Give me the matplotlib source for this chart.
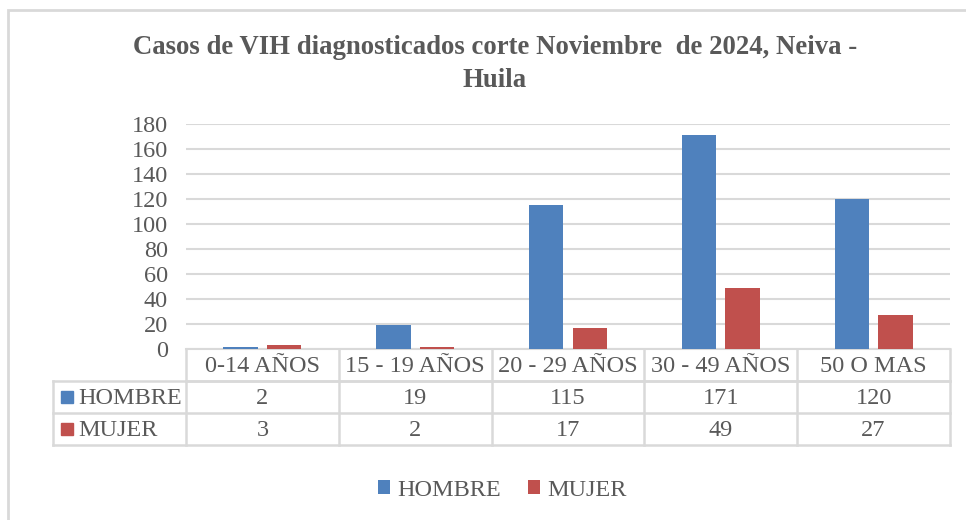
import matplotlib.pyplot as plt
from matplotlib.patches import Rectangle, Patch
from matplotlib.lines import Line2D
import numpy as np

# Datos del grafico
categorias = ["0-14 AÑOS", "15 - 19 AÑOS", "20 - 29 AÑOS", "30 - 49 AÑOS", "50 O MAS"]
hombre = [2, 19, 115, 171, 120]
mujer = [3, 2, 17, 49, 27]
series = ["HOMBRE", "MUJER"]
titulo = "Casos de VIH diagnosticados corte Noviembre  de 2024, Neiva -\nHuila"

azul = "#4F81BD"
rojo = "#C0504D"
gris_txt = "#595959"
gris_lin = "#D9D9D9"
fuente = "Liberation Serif"
fs = 17.5

W, H = 966, 520
fig = plt.figure(figsize=(W / 100, H / 100), dpi=100)
plt.rcParams['font.family'] = [fuente, 'DejaVu Serif']

# borde exterior del grafico
fig.patches.append(Rectangle((8 / W, -0.1), 1.2, 1 - 10 / H + 0.1, transform=fig.transFigure,
                             fill=False, edgecolor=gris_lin, linewidth=2))

# area de trazado
x0, x1 = 186, 950
y0, y1 = 349, 124
ax = fig.add_axes([x0 / W, 1 - y0 / H, (x1 - x0) / W, (y0 - y1) / H])

x = np.arange(len(categorias))
ancho = 0.225
ax.bar(x - 0.143, hombre, ancho, color=azul, zorder=3)
ax.bar(x + 0.143, mujer, ancho, color=rojo, zorder=3)

ax.set_xlim(-0.5, len(categorias) - 0.5)
ax.set_ylim(0, 180)
ax.set_yticks(range(0, 181, 20))
ax.yaxis.grid(True, color=gris_lin, linewidth=1.5, zorder=0)
ax.tick_params(axis='y', length=0, labelsize=fs, labelcolor=gris_txt, pad=13)
ax.set_xticks([])
for s in ["top", "right", "left"]:
    ax.spines[s].set_visible(False)
ax.spines["bottom"].set_color(gris_lin)
ax.spines["bottom"].set_linewidth(1.5)

# tabla de datos debajo del eje
fila = 32 / (y0 - y1)   # alto de fila en coordenadas del eje
izq = (53 - x0) / (x1 - x0)
tr = ax.transAxes
lin = dict(color=gris_lin, linewidth=1.8, transform=tr, clip_on=False)

# lineas horizontales
ax.add_line(Line2D([0, 1], [-fila, -fila], **lin))
ax.add_line(Line2D([izq, 1], [-fila, -fila], **lin))
ax.add_line(Line2D([izq, 1], [-2 * fila, -2 * fila], **lin))
ax.add_line(Line2D([izq, 1], [-3 * fila, -3 * fila], **lin))
# lineas verticales
n = len(categorias)
for i in range(n + 1):
    ax.add_line(Line2D([i / n, i / n], [0, -3 * fila], **lin))
ax.add_line(Line2D([izq, izq], [-fila, -3 * fila], **lin))

dy = -2 / (y0 - y1)  # pequeno ajuste vertical del texto
for i, cat in enumerate(categorias):
    cx = (i + 0.5) / n
    ax.text(cx, -0.5 * fila + dy, cat, transform=tr, ha='center', va='center',
            fontsize=fs, color=gris_txt)
    ax.text(cx, -1.5 * fila + dy, str(hombre[i]), transform=tr, ha='center', va='center',
            fontsize=fs, color=gris_txt)
    ax.text(cx, -2.5 * fila + dy, str(mujer[i]), transform=tr, ha='center', va='center',
            fontsize=fs, color=gris_txt)

# etiquetas de fila con marcador de color
for k, (nombre, col) in enumerate(zip(series, [azul, rojo])):
    yy = -(1.5 + k) * fila
    ax.add_patch(Rectangle((izq + 8 / (x1 - x0), yy - 6 / (y0 - y1)), 12 / (x1 - x0), 12 / (y0 - y1),
                           transform=tr, color=col, clip_on=False))
    ax.text(izq + 25 / (x1 - x0), yy + dy, nombre, transform=tr, ha='left', va='center',
            fontsize=fs, color=gris_txt)

# titulo
fig.text(495 / W, 1 - 64 / H, titulo, ha='center', va='center', fontsize=19.3,
         fontweight='bold', color=gris_txt, linespacing=1.38)

# leyenda
handles = [Patch(facecolor=azul), Patch(facecolor=rojo)]
fig.legend(handles, series, loc='center', bbox_to_anchor=(502 / W, 1 - 490 / H), ncol=2,
           frameon=False, handlelength=0.5, handleheight=0.5, handletextpad=0.3,
           columnspacing=1.1, prop={'size': fs}, labelcolor=gris_txt)

fig.savefig("out.png", dpi=100)
